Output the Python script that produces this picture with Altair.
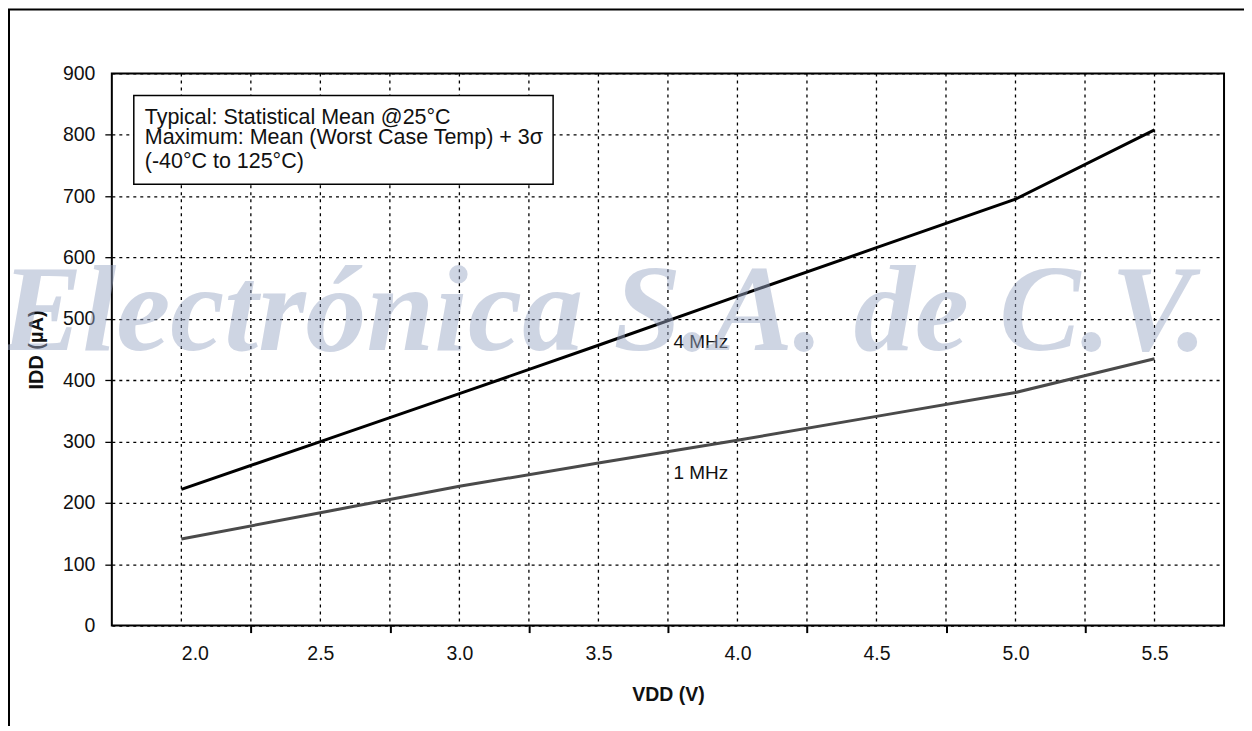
import altair as alt
import pandas as pd

# ---- data ----
vdd = [2.0, 2.5, 3.0, 3.5, 4.0, 4.5, 5.0, 5.5]
idd_4mhz = [222, 300, 378, 457, 537, 616, 695, 808]
idd_1mhz = [141, 184, 227, 265, 302, 341, 380, 435]
series_names = ["4 MHz", "1 MHz"]

x_tick_values = [1.75, 2.25, 2.75, 3.25, 3.75, 4.25, 4.75, 5.25]
x_grid_values = [2.0, 2.25, 2.5, 2.75, 3.0, 3.25, 3.5, 3.75, 4.0,
                 4.25, 4.5, 4.75, 5.0, 5.25, 5.5]
y_values = [0, 100, 200, 300, 400, 500, 600, 700, 800, 900]

legend_lines = ["Typical: Statistical Mean @25°C",
                "Maximum: Mean (Worst Case Temp) + 3σ",
                "(-40°C to 125°C)"]
watermark = "Electrónica S.A. de C.V."
x_title = "VDD (V)"
y_title = "IDD (µA)"

# ---- build table ----
df = pd.DataFrame({
    "vdd": vdd * 2,
    "idd": idd_4mhz + idd_1mhz,
    "series": [series_names[0]] * len(vdd) + [series_names[1]] * len(vdd),
})

W, H = 1114, 553
FONT = "Liberation Sans"

xscale = alt.Scale(domain=[1.75, 5.75], nice=False, zero=False)
yscale = alt.Scale(domain=[0, 900], nice=False)

xaxis = alt.Axis(
    values=x_tick_values,
    labelExpr="format(datum.value + 0.25, '.1f')",
    labelOffset=W / 16,
    grid=False, domain=False,
    tickSize=7, tickColor="black", tickWidth=2,
    tickOpacity={"condition": {"test": "datum.value < 2", "value": 0}, "value": 1},
    labelFontSize=19.5, labelFont=FONT, labelColor="#111", labelPadding=12,
    title=x_title, titleFont=FONT, titleFontSize=19.5, titleFontWeight="bold",
    titleX=W / 2, titleY=69, titleBaseline="middle", titleColor="#111",
)
yaxis = alt.Axis(
    values=y_values,
    grid=True, gridDash=[3, 4], gridColor="black", gridWidth=1.3,
    domain=False,
    tickSize=7, tickColor="black", tickWidth=1.3,
    tickOpacity={"condition": {"test": "datum.value == 0 || datum.value == 900", "value": 0}, "value": 1},
    labelFontSize=19.5, labelFont=FONT, labelColor="#111", labelPadding=10,
    title=y_title, titleFont=FONT, titleFontSize=20, titleFontWeight="bold",
    titleX=-75, titleY=H / 2, titleAngle=270, titleBaseline="middle",
    titleAlign="center", titleColor="#111",
)

base = alt.Chart(df)

xgrid = alt.Chart(pd.DataFrame({"g": x_grid_values})).mark_rule(
    strokeDash=[3, 4], color="black", strokeWidth=1.3
).encode(x=alt.X("g:Q", scale=xscale, axis=xaxis))

lines = base.mark_line(strokeWidth=3).encode(
    x=alt.X("vdd:Q", scale=xscale, axis=xaxis),
    y=alt.Y("idd:Q", scale=yscale, axis=yaxis),
    color=alt.Color("series:N", scale=alt.Scale(domain=series_names,
                                                range=["#000000", "#4a4a4a"]),
                    legend=None),
)

lab_df = pd.DataFrame({"x": [3.77, 3.77], "y": [463, 248], "t": series_names})
line_labels = alt.Chart(lab_df).mark_text(
    align="left", baseline="middle", fontSize=19, font=FONT, color="#111"
).encode(x=alt.X("x:Q", scale=xscale), y=alt.Y("y:Q", scale=yscale), text="t:N")

one = pd.DataFrame({"a": [0]})
legend_box = alt.Chart(one).mark_rect(
    fill="white", stroke="black", strokeWidth=1.5
).encode(x=alt.value(22), x2=alt.value(442), y=alt.value(22), y2=alt.value(111))

leg_layers = []
for txt, yy in zip(legend_lines, [51, 71, 95]):
    leg_layers.append(
        alt.Chart(pd.DataFrame({"t": [txt]})).mark_text(
            align="left", baseline="alphabetic", fontSize=21.5, font=FONT, color="#111"
        ).encode(x=alt.value(33), y=alt.value(yy), text="t:N")
    )

wm = alt.Chart(pd.DataFrame({"t": [watermark]})).mark_text(
    align="center", baseline="alphabetic", font="Liberation Serif",
    fontSize=122, fontStyle="italic", fontWeight="bold",
    color="#9ba8c6", opacity=0.48
).encode(x=alt.value(493), y=alt.value(277), text="t:N")

frame = alt.Chart(one).mark_rect(
    filled=False, stroke="black", strokeWidth=2
).encode(x=alt.value(-103), x2=alt.value(1400), y=alt.value(-64), y2=alt.value(900))

chart = alt.layer(
    frame, xgrid, lines, line_labels, legend_box, *leg_layers, wm
).properties(
    width=W, height=H,
    autosize=alt.AutoSizeParams(type="none"),
    padding={"left": 104, "top": 65, "right": 20, "bottom": 100},
    background="white",
).configure_view(stroke="black", strokeWidth=2)

chart.save("out.html", embed_options={"renderer": "svg", "actions": False})
